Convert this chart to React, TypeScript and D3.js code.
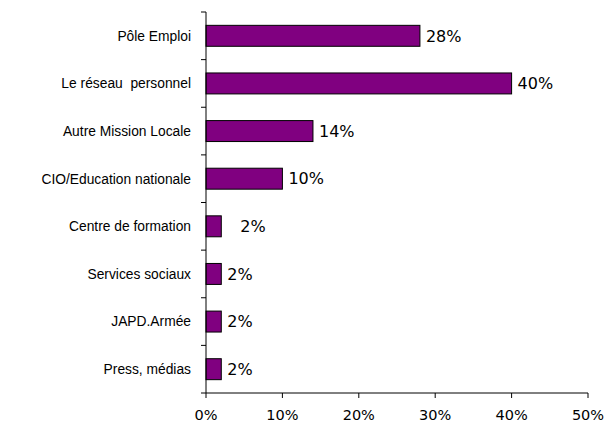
import React from "react";
import * as d3 from "d3";

const categories = [
  "Pôle Emploi",
  "Le réseau  personnel",
  "Autre Mission Locale",
  "CIO/Education nationale",
  "Centre de formation",
  "Services sociaux",
  "JAPD.Armée",
  "Press, médias",
];
const values = [28, 40, 14, 10, 2, 2, 2, 2];
const xTicks = [0, 10, 20, 30, 40, 50];

const W = 606;
const H = 433;
const left = 206;
const right = 588;
const top = 12;
const bottom = 393;

export default function App() {
  const x = d3.scaleLinear().domain([0, 50]).range([left, right]);
  const y = d3.scaleBand<string>().domain(categories).range([top, bottom]).paddingInner(0.56).paddingOuter(0.28);
  const band = (bottom - top) / categories.length;
  const boundaries = d3.range(categories.length + 1).map((i) => top + i * band);

  return (
    <svg width={W} height={H} style={{ position: "absolute", left: 0, top: 0, background: "#fff" }}>
      {values.map((v, i) => (
        <rect
          key={i}
          x={x(0)}
          y={y(categories[i])!}
          width={x(v) - x(0)}
          height={y.bandwidth()}
          fill="#800080"
          stroke="#000"
          strokeWidth={1}
        />
      ))}
      {/* y axis */}
      <line x1={left} x2={left} y1={top} y2={bottom} stroke="#000" strokeWidth={1} />
      {boundaries.map((b, i) => (
        <line key={i} x1={left - 5} x2={left} y1={b} y2={b} stroke="#000" strokeWidth={1} />
      ))}
      {/* x axis */}
      <line x1={left} x2={right} y1={bottom} y2={bottom} stroke="#000" strokeWidth={1} />
      {xTicks.map((t) => (
        <g key={t}>
          <line x1={x(t)} x2={x(t)} y1={bottom} y2={bottom + 5} stroke="#000" strokeWidth={1} />
          <text
            x={x(t)}
            y={420}
            textAnchor="middle"
            fontFamily="DejaVu Sans, sans-serif"
            fontSize={14.5}
            fill="#000"
          >
            {t + "%"}
          </text>
        </g>
      ))}
      {categories.map((c) => (
        <text
          key={c}
          x={191}
          y={y(c)! + y.bandwidth() / 2}
          dy="0.35em"
          textAnchor="end"
          fontFamily="Liberation Sans, Arial, sans-serif"
          fontSize={13.8}
          fill="#000"
          style={{ whiteSpace: "pre" }}
        >
          {c}
        </text>
      ))}
      {values.map((v, i) => (
        <text
          key={i}
          x={x(v) + (i === 4 ? 19 : 6)}
          y={y(categories[i])! + y.bandwidth() / 2}
          dy="0.36em"
          fontFamily="DejaVu Sans, sans-serif"
          fontSize={16}
          fill="#000"
        >
          {v + "%"}
        </text>
      ))}
    </svg>
  );
}
